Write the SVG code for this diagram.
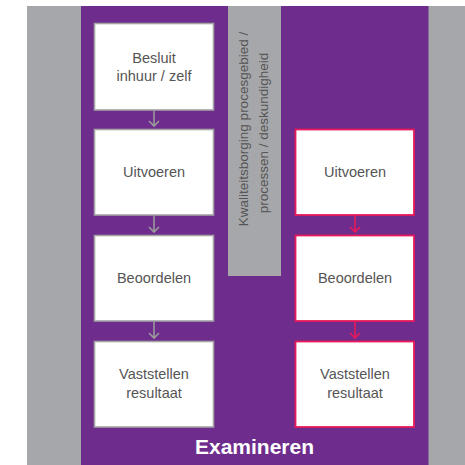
<svg xmlns="http://www.w3.org/2000/svg" width="465" height="465" viewBox="0 0 465 465">
<defs>
<style>
.box{fill:#fff;stroke:#a3a3a3;stroke-width:1.6}
.rbox{fill:#fff;stroke:#e8195a;stroke-width:1.8}
.lbl{font-family:"Liberation Sans",Arial,sans-serif;font-size:14.5px;fill:#555;text-anchor:middle}
.vl{font-size:13.5px}
.ga{stroke:#9a9a9a;stroke-width:1.6;fill:none}
.ra{stroke:#e8195a;stroke-width:1.6;fill:none}
</style>
</defs>
<rect x="0" y="0" width="465" height="465" fill="#fff"/>
<rect x="27" y="6" width="438" height="459" fill="#a6a7aa"/>
<rect x="81" y="6" width="347.5" height="459" fill="#6e2c8c"/>
<g id="kwaliteit">
<rect x="228" y="6" width="53" height="270" fill="#a6a7aa"/>
<text class="lbl vl" transform="translate(248,129) rotate(-90)">Kwaliteitsborging procesgebied /</text>
<text class="lbl vl" transform="translate(268,133) rotate(-90)">processen / deskundigheid</text>
</g>
<g id="l1"><rect class="box" x="94.5" y="23.5" width="119" height="86.5"/><text class="lbl" x="154" y="63">Besluit</text><text class="lbl" x="154" y="81">inhuur / zelf</text></g>
<g id="l2"><rect class="box" x="94.5" y="129.5" width="119" height="85.5"/><text class="lbl" x="154" y="177">Uitvoeren</text></g>
<g id="l3"><rect class="box" x="94.5" y="235.5" width="119" height="85.5"/><text class="lbl" x="154" y="283">Beoordelen</text></g>
<g id="l4"><rect class="box" x="94.5" y="341.5" width="119" height="85.5"/><text class="lbl" x="154" y="379">Vaststellen</text><text class="lbl" x="154" y="398">resultaat</text></g>
<g id="r1"><rect class="rbox" x="295.5" y="129.5" width="118.5" height="85.5"/><text class="lbl" x="355" y="177">Uitvoeren</text></g>
<g id="r2"><rect class="rbox" x="295.5" y="235.5" width="118.5" height="85.5"/><text class="lbl" x="355" y="283">Beoordelen</text></g>
<g id="r3"><rect class="rbox" x="295.5" y="341.5" width="118.5" height="85.5"/><text class="lbl" x="355" y="379">Vaststellen</text><text class="lbl" x="355" y="398">resultaat</text></g>
<g id="connectors">
<path class="ga" d="M154 111V126M149 121L154 126L159 121"/>
<path class="ga" d="M154 216V232M149 227L154 232L159 227"/>
<path class="ga" d="M154 322V338M149 333L154 338L159 333"/>
<path class="ra" d="M355 216V232M350 227L355 232L360 227"/>
<path class="ra" d="M355 322V338M350 333L355 338L360 333"/>
</g>
<text x="254.5" y="454" font-family="Liberation Sans,Arial,sans-serif" font-size="21px" font-weight="bold" fill="#fff" text-anchor="middle">Examineren</text>
</svg>
